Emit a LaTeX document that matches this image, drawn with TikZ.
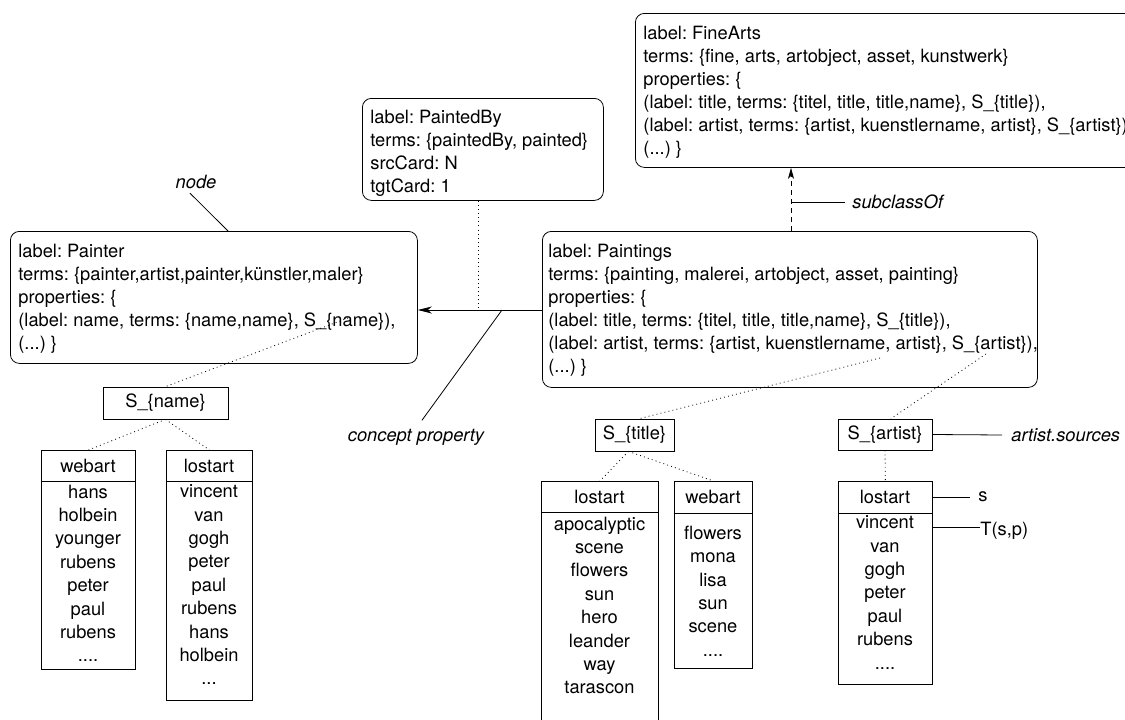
\documentclass[tikz,border=0pt]{standalone}
\usepackage{fontspec}
\setmainfont{TeX Gyre Heros}
\usetikzlibrary{arrows.meta}
\newcommand{\boxfont}{\fontsize{18.3}{23}\selectfont\frenchspacing}
\newcommand{\listfont}{\fontsize{18.3}{23.4}\selectfont\frenchspacing}

\begin{document}
\begin{tikzpicture}[x=1pt, y=-1pt, line width=0.8pt,
  every node/.style={inner sep=0pt},
  concept/.style={draw, rounded corners=9pt, anchor=north west},
  lines/.style={anchor=north west, align=left, font=\boxfont},
  srcbox/.style={draw, font=\boxfont},
  srctable/.style={draw, anchor=north west},
  entries/.style={anchor=north, align=center, font=\listfont},
  head/.style={font=\boxfont},
  note/.style={font=\boxfont\itshape},
  plain/.style={font=\boxfont},
  ref/.style={dash pattern=on 0.9pt off 3.2pt},
  rel/.style={-{Stealth[length=14pt, width=7pt, inset=4pt]}},
  sub/.style={dash pattern=on 5pt off 4pt, -{Stealth[length=11pt, width=6pt, inset=3pt]}}
]
\useasboundingbox (0,0) rectangle (1125,720);
\clip (0,0) rectangle (1125,720);

% ---------- concepts and the relation ----------
\node[concept, minimum width=520pt, minimum height=154pt] (finearts) at (635,13) {};
\node[lines] (finearts-text) at (643,25.4)
  {label: FineArts\\
   terms: \{fine, arts, artobject, asset, kunstwerk\}\\
   properties: \{\\
   (label: title, terms: \{titel, title, title,name\}, S\_\{title\}),\\
   (label: artist, terms: \{artist, kuenstlername, artist\}, S\_\{artist\}),\\
   (...) \}};

\node[concept, minimum width=241pt, minimum height=102pt] (paintedby) at (362,98) {};
\node[lines] (paintedby-text) at (370,109.4)
  {label: PaintedBy\\
   terms: \{paintedBy, painted\}\\
   srcCard: N\\
   tgtCard: 1};

\node[concept, minimum width=407pt, minimum height=132pt] (painter) at (10,231) {};
\node[lines] (painter-text) at (18,243.4)
  {label: Painter\\
   terms: \{painter,artist,painter,künstler,maler\}\\
   properties: \{\\
   (label: name, terms: \{name,name\}, S\_\{name\}),\\
   (...) \}};

\node[concept, minimum width=495pt, minimum height=156pt] (paintings) at (542,231) {};
\node[lines] (paintings-text) at (548,243.4)
  {label: Paintings\\
   terms: \{painting, malerei, artobject, asset, painting\}\\
   properties: \{\\
   (label: title, terms: \{titel, title, title,name\}, S\_\{title\}),\\
   (label: artist, terms: \{artist, kuenstlername, artist\}, S\_\{artist\}),\\
   (...) \}};

% ---------- source sets ----------
\node[srcbox, minimum width=125pt, minimum height=32pt] (sname) at (165.5,403) {S\_\{name\}};
\node[srcbox, minimum width=79pt, minimum height=32pt] (stitle) at (634.5,435) {S\_\{title\}};
\node[srcbox, minimum width=94pt, minimum height=31pt] (sartist) at (885,434.5) {S\_\{artist\}};

% ---------- source tables ----------
\node[srctable, minimum width=94pt, minimum height=219pt] (nweb) at (41,450) {};
\draw ([yshift=-31pt]nweb.north west) -- ([yshift=-31pt]nweb.north east);
\node[head] (nweb-head) at (88,465.5) {webart};
\node[entries] (nweb-list) at (88,484.4)
  {hans\\holbein\\younger\\rubens\\peter\\paul\\rubens\\....};

\node[srctable, minimum width=86pt, minimum height=250pt] (nlost) at (166,450) {};
\draw ([yshift=-31pt]nlost.north west) -- ([yshift=-31pt]nlost.north east);
\node[head] (nlost-head) at (209,465.5) {lostart};
\node[entries] (nlost-list) at (209,484.4)
  {vincent\\van\\gogh\\peter\\paul\\rubens\\hans\\holbein\\...};

\node[srctable, minimum width=117pt, minimum height=260pt] (tlost) at (541,481) {};
\draw ([yshift=-31pt]tlost.north west) -- ([yshift=-31pt]tlost.north east);
\node[head] (tlost-head) at (599.5,496.5) {lostart};
\node[entries] (tlost-list) at (599.5,516.4)
  {apocalyptic\\scene\\flowers\\sun\\hero\\leander\\way\\tarascon};

\node[srctable, minimum width=78pt, minimum height=187pt] (tweb) at (674,481) {};
\draw ([yshift=-32pt]tweb.north west) -- ([yshift=-32pt]tweb.north east);
\node[head] (tweb-head) at (713,497) {webart};
\node[entries] (tweb-list) at (713,525.4)
  {flowers\\mona\\lisa\\sun\\scene\\....};

\node[srctable, minimum width=94pt, minimum height=203pt] (alost) at (838,481) {};
\draw ([yshift=-32pt]alost.north west) -- ([yshift=-32pt]alost.north east);
\node[head] (alost-head) at (885,497) {lostart};
\node[entries] (alost-list) at (885,515.4)
  {vincent\\van\\gogh\\peter\\paul\\rubens\\....};

% ---------- relation and subclass links ----------
\coordinate (pb) at (478,310);
\draw[rel] (paintings.west |- pb) -- (painter.east |- pb);
\draw[ref] (paintedby.south -| pb) -- (pb);

\coordinate (subx) at (791,0);
\draw[sub] (paintings.north -| subx) -- (finearts.south -| subx);

% ---------- property references ----------
\coordinate (nameref) at (348,318);
\draw[ref] (nameref) -- (sname.north);
\draw[ref] (sname.south) -- (nweb.north);
\draw[ref] (sname.south) -- (nlost.north);

\coordinate (titleref) at (880,358);
\draw[ref] (titleref) -- ([xshift=5pt]stitle.north);
\draw[ref] ([xshift=-6pt]stitle.south) -- (tlost.north);
\draw[ref] ([xshift=-6pt]stitle.south) -- (tweb.north);

\coordinate (artistref) at (986,354);
\draw[ref] (artistref) -- ([xshift=6pt]sartist.north);
\draw[ref] (sartist.south) -- (alost.north);

% ---------- annotations ----------
\node[note] (nodelabel) at (196,182) {node};
\path (painter.north west) ++(218,0) coordinate (nodetip);
\draw ([xshift=-6pt, yshift=-4pt]nodelabel.south) -- (nodetip);

\coordinate (cp) at (502,310);
\node[note] (cplabel) at (416,437) {concept property};
\draw[shorten >=10pt] (cp) -- (cplabel.north);

\coordinate (subtick) at (792,202);
\node[note, anchor=west] (sublabel) at (852,202) {subclassOf};
\draw (subtick) -- ([xshift=-7pt]sublabel.west);

\node[note, anchor=west] (srclabel) at (1011,435) {artist.sources};
\draw (sartist.east) -- ([xshift=-9pt]srclabel.west);

\node[plain, anchor=west] (slabel) at (978,497) {s};
\draw (alost.north east |- slabel) -- ([xshift=-8pt]slabel.west);

\node[plain, anchor=west] (tlabel) at (980,531) {T(s,p)};
\draw ([yshift=-46pt]alost.north east) -- ([yshift=4pt]tlabel.west);
\end{tikzpicture}
\end{document}
